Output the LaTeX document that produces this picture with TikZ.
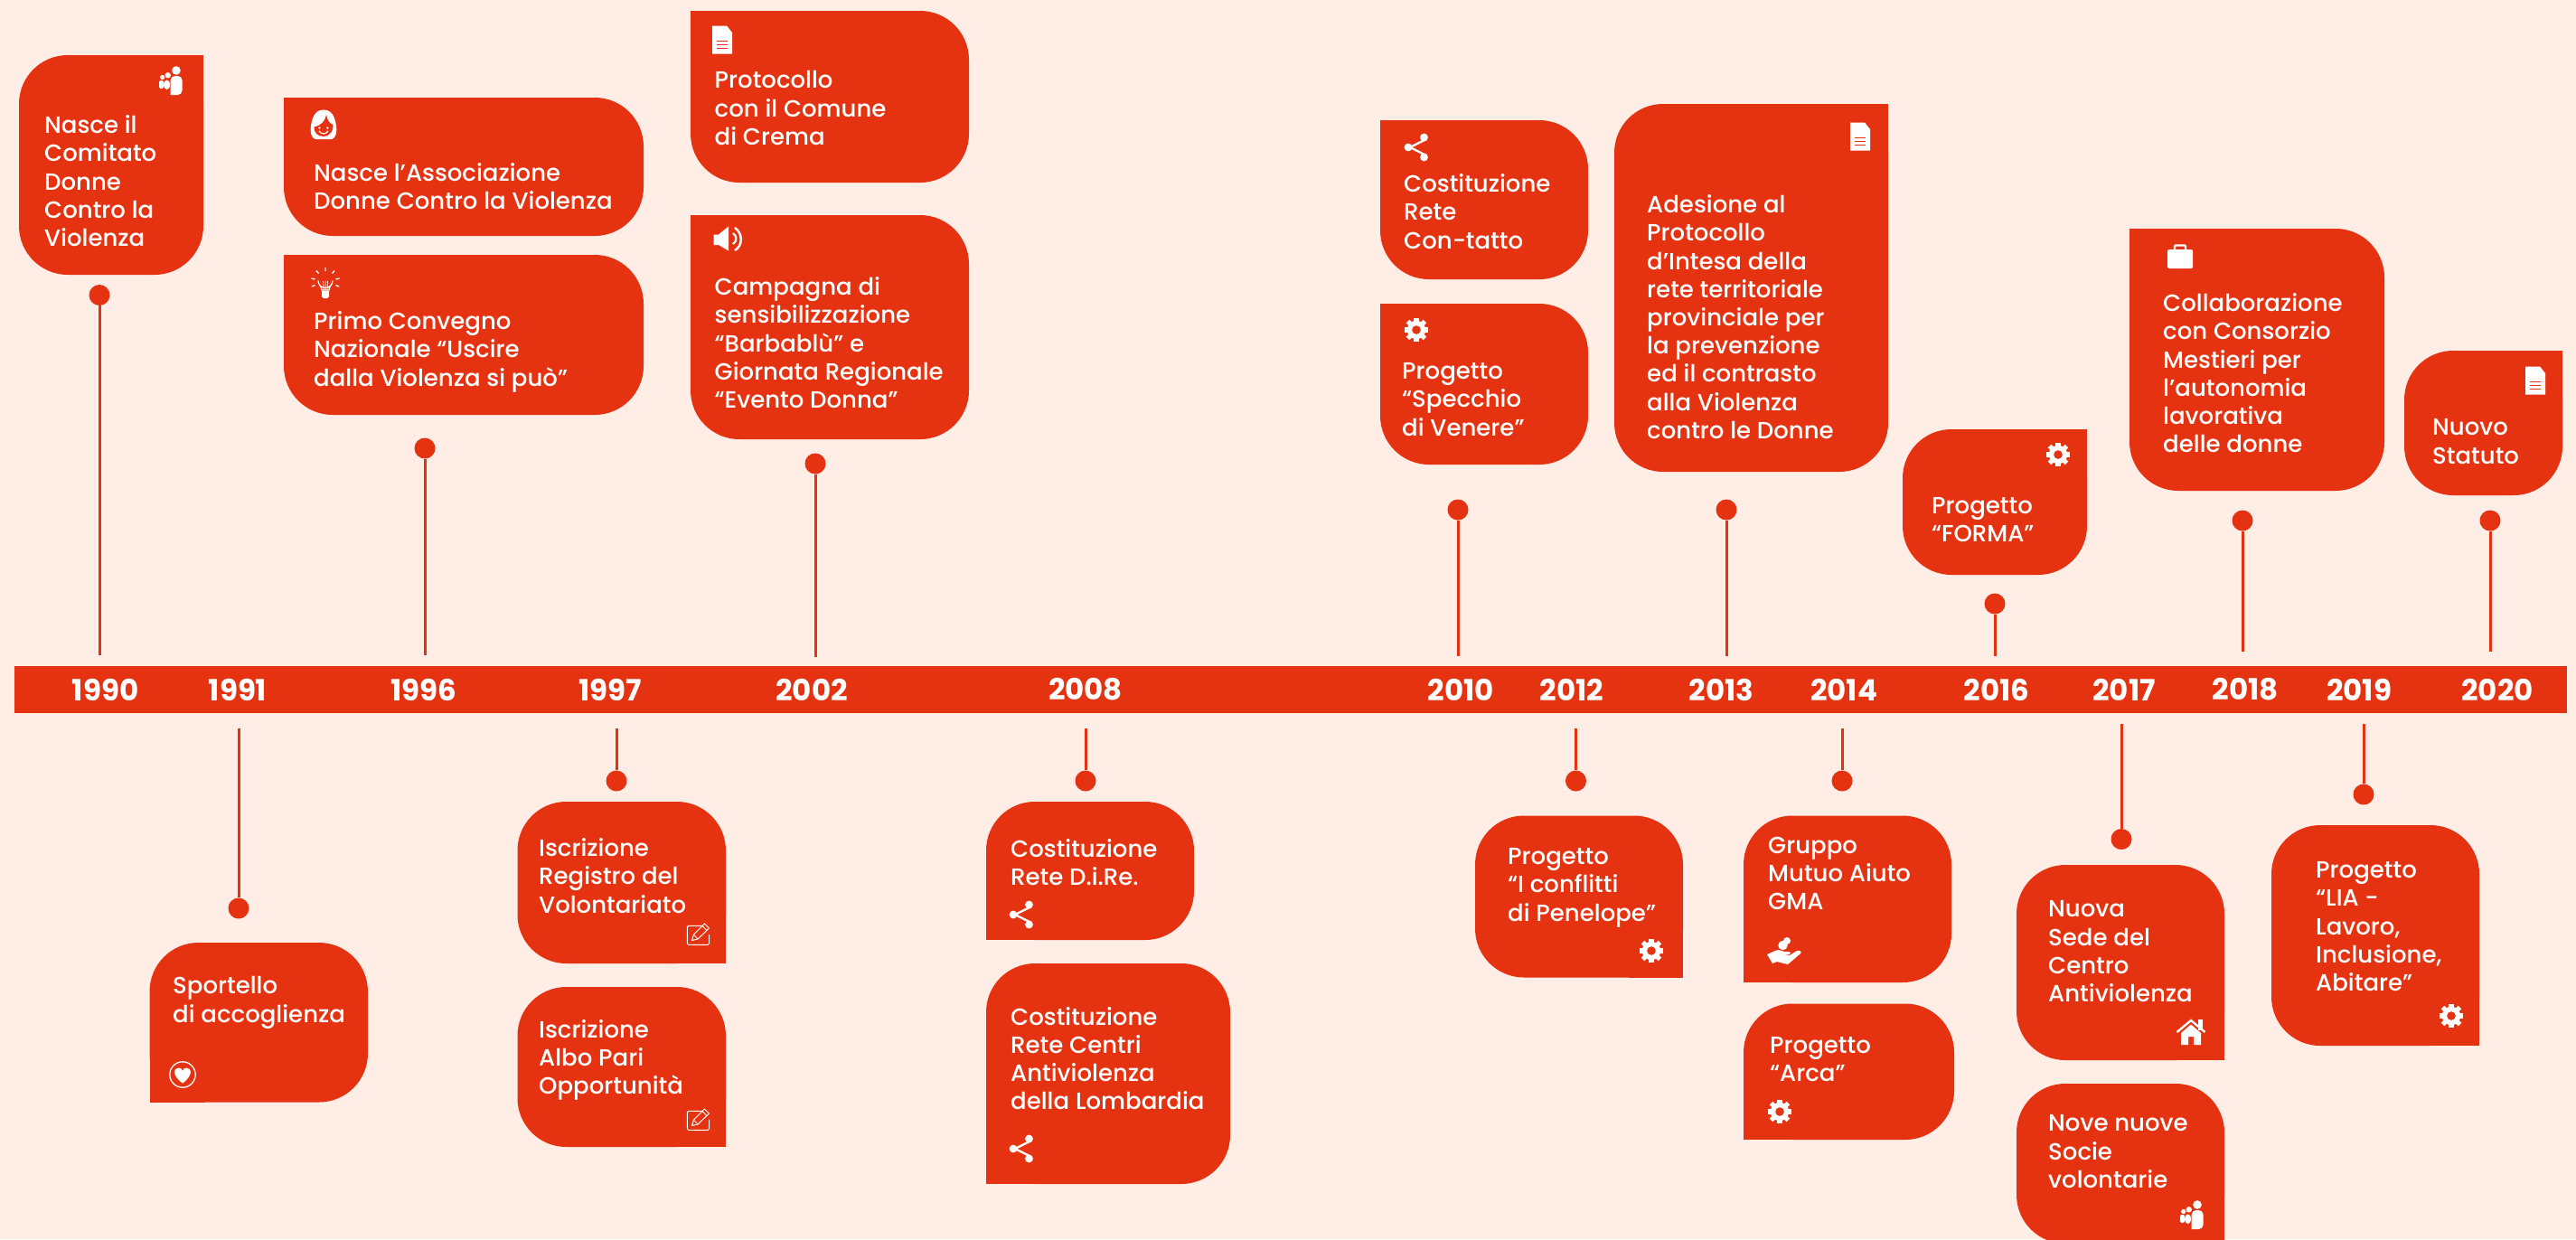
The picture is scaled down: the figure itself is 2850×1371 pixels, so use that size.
\documentclass[tikz,border=0pt]{standalone}
\usepackage{fontspec}
\setmainfont{Poppins}[UprightFont=* Medium,BoldFont=* Bold]
\definecolor{evred}{HTML}{E53312}
\definecolor{evbg}{HTML}{FFEDE6}
\tikzset{
  boxfill/.style={fill=evred,rounded corners=54pt},
  boxsq/.style={fill=evred},
  evtext/.style={text=white,font=\fontsize{26}{31.2}\selectfont,align=left,inner sep=0pt,anchor=north west,yshift=19.5pt,execute at begin node={\rule{0pt}{22pt}}},
  yearlabel/.style={text=white,font=\fontsize{32.5}{33}\selectfont\bfseries,inner sep=0pt},
  pindot/.style={circle,fill=evred,inner sep=0pt,minimum size=23pt},
  pinline/.style={draw=evred,line width=3pt},
  pics/icgear/.style={code={
    \foreach \a in {0,45,...,315}{\fill[white,rotate=\a] (-2.6,-13.4) rectangle (2.6,-7);}
    \fill[white] (0,0) circle (10.2);
    \fill[evred] (0,0) circle (4.8);}},
  pics/icdoc/.style={code={
    \fill[white] (-11,-15.5) -- (5,-15.5) -- (11,-8) -- (11,15.5) -- (-11,15.5) -- cycle;
    \draw[evred,line width=1.5pt] (-6,1.5) -- (6,1.5) (-6,5.5) -- (6,5.5) (-6,9.5) -- (6,9.5);}},
  pics/icshare/.style={code={
    \draw[white,line width=2.4pt] (9,-9) -- (-9,0) -- (9,9);
    \fill[white] (-11,0) circle (4.4) (6.5,-11) circle (4.4) (6.5,11) circle (4.4);}},
  pics/icpeople/.style={code={
    \fill[white] (5,-12) circle (4.8) (-4.3,-6.7) circle (3.2) (-10.3,-4.5) circle (2.6);
    \fill[white,rounded corners=4pt] (-8.8,9) -- (-8.8,-1.5) -- (-2,-1.5) -- (-2,9) -- cycle;
    \fill[white,rounded corners=2pt] (-14,8) -- (-14,-1) -- (-9,-1) -- (-9,8) -- cycle;
    \draw[evred,line width=1pt] (-2,-3) -- (-2,15);
    \fill[white,rounded corners=5pt] (-1.4,15) -- (-1.4,-6) -- (11.6,-6) -- (11.6,15) [sharp corners] -- cycle;}},
  pics/icwoman/.style={code={
    \fill[white] (-1,-17.5) .. controls (-13,-17.5) and (-14,-4) .. (-15,0) .. controls (-16,6) and (-15,14) .. (-10,15) -- (8,15) .. controls (13,14) and (14,6) .. (13,0) .. controls (12,-4) and (11,-17.5) .. (-1,-17.5) -- cycle;
    \fill[evred] (-11.5,1.5) .. controls (-4,0) and (1,-5) .. (2,-12) .. controls (3,-6) and (6,-2) .. (9.5,-1) .. controls (10.5,6) and (5,12) .. (-1,12) .. controls (-8,12) and (-12,7) .. (-11.5,1.5) -- cycle;
    \fill[white] (-5.7,2.5) circle (1.3) (3.3,2.5) circle (1.3);
    \draw[white,line width=1.2pt] (-6,6) .. controls (-3,10) and (1,10) .. (4,6);}},
  pics/icbulb/.style={code={
    \draw[white,line width=1.2pt] (-4,7) .. controls (-4,3) and (-8,1) .. (-8,-3.5) arc (180:360:8 and -8) .. controls (8,1) and (4,3) .. (4,7) -- cycle;
    \draw[white,line width=.7pt] (-2,7) -- (-2.5,-3) (2,7) -- (2.5,-3) (0,7) -- (0,-3);
    \fill[white] (-4,8) -- (4,8) -- (4,14) -- (2,16) -- (-2,16) -- (-4,14) -- cycle;
    \draw[white,line width=1.4pt] (0,-18) -- (0,-14) (-10,-14.5) -- (-7.5,-11.5) (10,-14.5) -- (7.5,-11.5)
      (-15.5,-6) -- (-11.5,-5) (15.5,-6) -- (11.5,-5) (-15,3) -- (-11.5,1.5) (15,3) -- (11.5,1.5);}},
  pics/icspeak/.style={code={
    \fill[white] (-18.5,-7.5) -- (-13,-7.5) -- (-2,-16.5) -- (-2,10.5) -- (-13,4) -- (-18.5,4) -- cycle;
    \draw[white,line width=2.2pt] (3,-9) .. controls (7.5,-6) and (7.5,0) .. (3,3);
    \draw[white,line width=2.4pt] (5,-15) .. controls (14,-9) and (14,5) .. (5,10);}},
  pics/icbag/.style={code={
    \fill[white,rounded corners=2pt] (-14,-8) rectangle (14,13);
    \draw[white,line width=2.2pt,rounded corners=1pt] (-6,-8) -- (-6,-12.5) -- (6,-12.5) -- (6,-8);}},
  pics/icpencil/.style={code={
    \draw[white,line width=1pt,rounded corners=1.5pt] (5,-11.7) -- (-13.7,-11.7) -- (-13.7,9.3) -- (10.7,9.3) -- (10.7,-2);
    \draw[white,line width=1pt,fill=evred] (-8.5,4.5) -- (-6.5,-2) -- (5.5,-14) -- (10.5,-9) -- (-2,3) -- cycle;
    \draw[white,line width=.8pt] (-6.5,-2) -- (-2,3) (3,-11.5) -- (8,-6.5);}},
  pics/icheart/.style={code={
    \draw[white,line width=1.3pt] (0,0) circle (14.2);
    \fill[white] (0,9.5) .. controls (-12,1) and (-10,-7.5) .. (-4.5,-7.5) .. controls (-2,-7.5) and (0,-6) .. (0,-4) .. controls (0,-6) and (2,-7.5) .. (4.5,-7.5) .. controls (10,-7.5) and (12,1) .. (0,9.5) -- cycle;}},
  pics/ichand/.style={code={
    \fill[white] (2,-12) circle (4);
    \fill[white] (-2.5,-7) circle (5.2);
    \fill[white] (-20,3) -- (-11,-1) .. controls (-7,-3) and (-4,-1) .. (-1,0) -- (5,0) .. controls (7,1) and (6,3) .. (3,3) -- (-4,3) -- (5,4) -- (13,-1) .. controls (16,-2) and (19,0) .. (17,2) -- (3,14) -- (-9,11) -- (-14,13) -- cycle;}},
  pics/ichouse/.style={code={
    \fill[white] (-11,0) -- (0,-9.5) -- (11,0) -- (11,13) -- (3,13) -- (3,4) -- (-3,4) -- (-3,13) -- (-11,13) -- cycle;
    \draw[white,line width=2.4pt] (-15.5,-1) -- (0,-14) -- (15.5,-1);
    \fill[white] (8,-15) rectangle (13,-3);}},
}
% one rounded box with one square corner and its text
\newcommand\evTL[4]{\fill[boxsq] (#1,#2) rectangle ++(60,60);}
\newcommand\evTR[4]{\fill[boxsq] (#3,#2) rectangle ++(-60,60);}
\newcommand\evBL[4]{\fill[boxsq] (#1,#4) rectangle ++(60,-60);}
\newcommand\evBR[4]{\fill[boxsq] (#3,#4) rectangle ++(-60,-60);}
\newcommand\evbox[9]{%
  \path[boxfill] (#3,#4) rectangle (#5,#6);
  \csname ev#1\endcsname{#3}{#4}{#5}{#6}%
  \node[evtext] (#2) at (#7,#8) {#9};}
\newcommand\evpin[4]{%
  \coordinate (#1e) at (#2,#4);
  \node[pindot] (#1d) at (#2,#3) {};
  \draw[pinline] (#1d) -- (#1e);}
\begin{document}
\begin{tikzpicture}[x=1pt,y=-1pt]
\useasboundingbox (0,0) rectangle (2850,1371);
\fill[evbg] (0,0) rectangle (2850,1371);
\begin{scope}
\clip (0,0) rectangle (2850,1371);
% timeline bar
\node[fill=evred,inner sep=0pt,minimum width=2824pt,minimum height=52pt] (bar) at (1428,763) {};
\foreach \yy/\xx in {1990/116.5,1991/263,1996/469,1997/675,2002/898,2008/1201,2010/1616,2012/1739,2013/1904.5,2014/2040,2016/2209,2017/2350,2018/2484,2019/2610,2020/2763}{
  \node[yearlabel] (y\yy) at (\xx,763) {\yy};}
% pins
\evpin{pa}{110}{326.5}{725}
\evpin{pb}{264}{1005}{806}
\evpin{pc}{470}{496}{725}
\evpin{pd}{682}{864}{806}
\evpin{pe}{902}{513}{727}
\evpin{pf}{1201}{864}{806}
\evpin{pg}{1613}{564}{726}
\evpin{ph}{1743.5}{864}{806}
\evpin{pi}{1910}{564}{726}
\evpin{pj}{2038}{864}{806}
\evpin{pk}{2207}{668}{726}
\evpin{pl}{2347}{928.5}{801}
\evpin{pm}{2481}{576}{721}
\evpin{pn}{2615}{879}{801}
\evpin{po}{2755}{576}{721}
% boxes
\evbox{TR}{b1}{21}{61}{225}{304}{49}{147}{Nasce il\\Comitato\\Donne\\Contro la\\Violenza}
\evbox{BL}{b2}{165.5}{1043}{407}{1219.5}{191}{1100}{Sportello\\di accoglienza}
\evbox{TL}{b3}{314}{108}{712}{261}{347}{200}{Nasce l’Associazione\\Donne Contro la Violenza}
\evbox{TL}{b4}{314}{282}{712}{459}{347}{364}{Primo Convegno\\Nazionale “Uscire\\dalla Violenza si può”}
\evbox{BR}{b5}{572.5}{887}{803}{1066}{596}{947}{Iscrizione\\Registro del\\Volontariato}
\evbox{BR}{b6}{572.5}{1092}{803}{1269}{596}{1147.5}{Iscrizione\\Albo Pari\\Opportunità}
\evbox{TL}{b7}{764}{12}{1072}{202}{790.5}{98}{Protocollo\\con il Comune\\di Crema}
\evbox{TL}{b8}{764}{238}{1072}{486}{790.5}{326}{Campagna di\\sensibilizzazione\\“Barbablù” e\\Giornata Regionale\\“Evento Donna”}
\evbox{BL}{b9}{1091}{887}{1321}{1040}{1118}{948}{Costituzione\\Rete D.i.Re.}
\evbox{BL}{b10}{1091}{1066}{1361}{1310}{1118}{1133.5}{Costituzione\\Rete Centri\\Antiviolenza\\della Lombardia}
\evbox{TL}{b11}{1527}{133}{1757}{309}{1553}{212}{Costituzione\\Rete\\Con-tatto}
\evbox{TL}{b12}{1527}{336}{1757}{514}{1551}{421}{Progetto\\“Specchio\\di Venere”}
\evbox{BR}{b13}{1632}{902.5}{1862}{1081.5}{1668}{958}{Progetto\\“I conflitti\\di Penelope”}
\evbox{TR}{b14}{1786}{115}{2089}{522}{1822}{235}{Adesione al\\Protocollo\\d’Intesa della\\rete territoriale\\provinciale per\\la prevenzione\\ed il contrasto\\alla Violenza\\contro le Donne}
\evbox{BL}{b15}{1929}{902.5}{2159}{1087}{1956}{945}{Gruppo\\Mutuo Aiuto\\GMA}
\evbox{BL}{b16}{1929}{1110.5}{2162}{1261}{1958}{1167}{Progetto\\“Arca”}
\evbox{TR}{b17}{2105}{475}{2309}{636}{2137}{570}{Progetto\\“FORMA”}
\evbox{BR}{b18}{2231}{957}{2461}{1173}{2266}{1016}{Nuova\\Sede del\\Centro\\Antiviolenza}
\evbox{BR}{b19}{2231}{1199}{2461}{1376}{2266}{1253}{Nove nuove\\Socie\\volontarie}
\evbox{TL}{b20}{2356}{253}{2638}{543}{2393}{344}{Collaborazione\\con Consorzio\\Mestieri per\\l’autonomia\\lavorativa\\delle donne}
\evbox{BR}{b21}{2513}{913}{2743}{1157}{2562}{973}{Progetto\\“LIA -\\Lavoro,\\Inclusione,\\Abitare”}
\evbox{TR}{b22}{2660}{388}{2835}{548}{2691}{483}{Nuovo\\Statuto}
% icons
\pic at (190,90) {icpeople};
\pic at (2426,1345) {icpeople};
\pic at (359,139) {icwoman};
\pic at (360,314) {icbulb};
\pic at (799,44) {icdoc};
\pic at (2058,151) {icdoc};
\pic at (2805,421) {icdoc};
\pic at (808,267) {icspeak};
\pic at (1569,163) {icshare};
\pic at (1132,1012) {icshare};
\pic at (1132,1271) {icshare};
\pic at (1567,365) {icgear};
\pic at (2277,503) {icgear};
\pic at (1827,1052) {icgear};
\pic at (1969,1230) {icgear};
\pic at (2712,1124) {icgear};
\pic at (2412,284) {icbag};
\pic at (774,1036) {icpencil};
\pic at (774,1241) {icpencil};
\pic at (202,1189) {icheart};
\pic at (1975,1053) {ichand};
\pic at (2424,1143) {ichouse};
\end{scope}
\end{tikzpicture}
\end{document}
